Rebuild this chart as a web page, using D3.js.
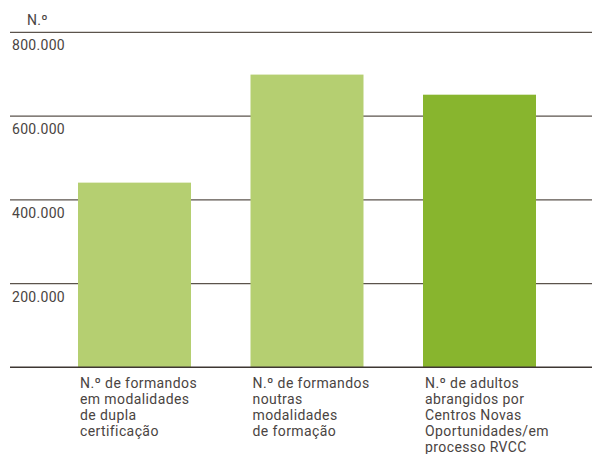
<!DOCTYPE html>
<html>
<head>
<meta charset="utf-8">
<script src="https://cdn.jsdelivr.net/npm/d3@7"></script>
<style>
  body { margin: 0; background: #fff; }
  svg { display: block; font-family: Roboto, "DejaVu Sans", sans-serif; }
</style>
</head>
<body>
<div id="chart"></div>
<script>
// DATA //
const categories = [
  ["N.º de formandos", "em modalidades", "de dupla", "certificação"],
  ["N.º de formandos", "noutras", "modalidades", "de formação"],
  ["N.º de adultos", "abrangidos por", "Centros Novas", "Oportunidades/em", "processo RVCC"],
];
const values = [441000, 699000, 651000];
const barColors = ["#b5cf71", "#b5cf71", "#88b52e"];
const tickValues = [200000, 400000, 600000, 800000];
const yTitle = "N.º";

// DIMENSIONS //
const width = 592;
const height = 454;

const svg = d3
  .select("#chart")
  .append("svg")
  .attr("width", width)
  .attr("height", height);

const y = d3.scaleLinear().domain([0, 800000]).range([367.3, 32.3]);
const x = d3
  .scaleBand()
  .domain(d3.range(categories.length))
  .range([43.5, 570.5])
  .paddingInner(0.345)
  .paddingOuter(0.2);

const fmt = (v) => d3.format(",")(v).replace(/,/g, ".");

// Gridlines and tick labels
const grid = svg
  .append("g")
  .selectAll("g")
  .data(tickValues)
  .join("g")
  .attr("transform", (d) => `translate(0, ${y(d)})`);

grid
  .append("line")
  .attr("x1", 10)
  .attr("x2", width)
  .attr("stroke", "#5b534c")
  .attr("stroke-width", 1.3);

grid
  .append("text")
  .attr("x", 12)
  .attr("y", 18)
  .attr("fill", "#4a4442")
  .attr("font-size", 14)
  .attr("letter-spacing", 0.3)
  .text((d) => fmt(d));

// Y title
svg
  .append("text")
  .attr("x", 27)
  .attr("y", 25)
  .attr("fill", "#4a4442")
  .attr("font-size", 14)
  .attr("letter-spacing", 0.3)
  .text(yTitle);

// Bars
svg
  .append("g")
  .selectAll("rect")
  .data(values)
  .join("rect")
  .attr("x", (d, i) => x(i))
  .attr("y", (d) => y(d))
  .attr("width", x.bandwidth())
  .attr("height", (d) => y(0) - y(d))
  .attr("fill", (d, i) => barColors[i]);

// Baseline
svg
  .append("line")
  .attr("x1", 10)
  .attr("x2", width)
  .attr("y1", y(0))
  .attr("y2", y(0))
  .attr("stroke", "#3e3632")
  .attr("stroke-width", 1.5);

// Category labels
svg
  .append("g")
  .selectAll("text")
  .data(categories)
  .join("text")
  .attr("x", (d, i) => x(i) + 2)
  .attr("y", 388.3)
  .attr("fill", "#4a4442")
  .attr("font-size", 14)
  .attr("letter-spacing", 0.4)
  .selectAll("tspan")
  .data((d) => d)
  .join("tspan")
  .attr("x", function () {
    return d3.select(this.parentNode).attr("x");
  })
  .attr("dy", (d, i) => (i === 0 ? 0 : 15.9))
  .text((d) => d);
</script>
</body>
</html>
